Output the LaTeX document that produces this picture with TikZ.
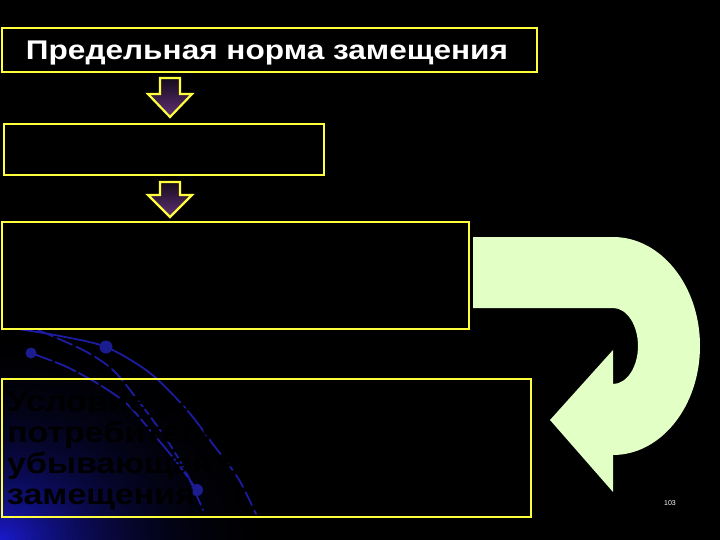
\documentclass[tikz,border=0pt]{standalone}
\usepackage{fontspec}
\setmainfont{Liberation Sans}
\newfontfamily\widesans[FakeStretch=1.17]{Liberation Sans}
\definecolor{slideyellow}{RGB}{255,255,60}
\definecolor{cornerblue}{RGB}{26,26,210}
\definecolor{arcblue}{RGB}{28,28,160}
\definecolor{dotblue}{RGB}{28,28,145}
\definecolor{uturn}{RGB}{226,255,198}
\definecolor{arrowtop}{RGB}{22,12,28}
\definecolor{arrowbot}{RGB}{96,48,120}
\tikzset{
  framebox/.style={draw=slideyellow, line width=2pt},
  downarrow/.style={draw=slideyellow, line width=2.2pt, line join=miter, top color=arrowtop, bottom color=arrowbot},
  orbit/.style={draw=arcblue, line width=1.8pt, line cap=round},
  orbitdot/.style={fill=dotblue, draw=none},
}
\begin{document}
\begin{tikzpicture}[x=1pt,y=-1pt]
\useasboundingbox (0,0) rectangle (720,540);
\fill[black] (0,0) rectangle (720,540);
\begin{scope}
  \clip (0,0) rectangle (720,540);
  \foreach \i in {60,59,...,1}{
    \pgfmathsetmacro{\f}{\i/60}
    \pgfmathsetmacro{\mix}{100*(1-\f)^2.7}
    \fill[cornerblue!\mix!black] (0,540) ellipse [x radius={310*\f}, y radius={235*\f}];
  }
\end{scope}
% orbits
\draw[orbit] plot[smooth] coordinates {(18,329) (60,336) (106,347) (150,373) (187,410) (212,443)};
\draw[orbit, dash pattern=on 14pt off 6pt] plot[smooth] coordinates {(212,443) (238,478) (256,514)};
\draw[orbit, dash pattern=on 16pt off 5pt] plot[smooth] coordinates {(38,330) (83,350) (113,370) (140,403) (167,440) (186,472) (203,510)};
\draw[orbit, dash pattern=on 22pt off 4pt] plot[smooth] coordinates {(31,353) (67,367) (100,385) (127,404) (150,430) (175,460) (197,490)};
\fill[orbitdot] (106,347) circle (6.5);
\fill[orbitdot] (31,353) circle (5.5);
\fill[orbitdot] (197,490) circle (6);
% boxes
\node[framebox, minimum width=535pt, minimum height=44pt, anchor=north west, inner sep=0pt] (title) at (1,27) {};
\node[font=\widesans\fontsize{27}{32}\selectfont\bfseries, text=white, anchor=base] (titletext) at (267,60) {Предельная норма замещения};
\node[framebox, minimum width=320pt, minimum height=51pt, anchor=north west, inner sep=0pt] (box2) at (3,123) {};
\node[framebox, minimum width=467pt, minimum height=107pt, anchor=north west, inner sep=0pt] (box3) at (1,221) {};
\node[framebox, minimum width=529pt, minimum height=138pt, anchor=north west, inner sep=0pt] (box4) at (1,378) {};
\node[font=\widesans\fontsize{29}{31}\selectfont\bfseries, text=black, anchor=north west, align=left, inner sep=0pt] (box4text) at (7,391) {Условие равновесия\\потребителя —\\убывающая норма\\замещения};
% down arrows
\draw[downarrow] (160,78) -- (180,78) -- (180,94) -- (192,94) -- (170,117) -- (148,94) -- (160,94) -- cycle;
\draw[downarrow] (160,182) -- (180,182) -- (180,195) -- (192,195) -- (170,217) -- (148,195) -- (160,195) -- cycle;
% U-turn arrow
\fill[uturn] (473,237) -- (613,237) arc[start angle=-90, end angle=90, x radius=87, y radius=109]
  -- (613,492) -- (550,420) -- (613,350) -- (613,384)
  arc[start angle=90, end angle=-90, x radius=25, y radius=38]
  -- (473,308) -- cycle;
\node[font=\fontsize{7}{8}\selectfont, text=white] (pagenum) at (670,503) {103};
\end{tikzpicture}
\end{document}
